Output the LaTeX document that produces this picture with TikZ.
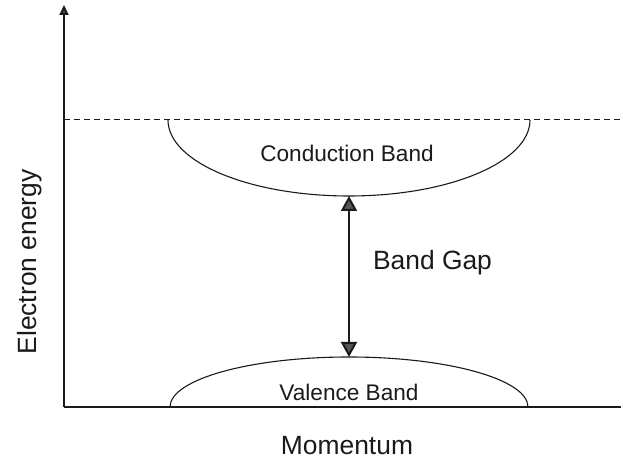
\documentclass[tikz,border=0pt]{standalone}
\usepackage{fontspec}
\setmainfont{Liberation Sans}
\usepackage{xcolor}
\usetikzlibrary{positioning,arrows.meta,calc}
\definecolor{ink}{HTML}{1A1A1A}
\definecolor{tipgray}{HTML}{555555}

\begin{document}
\begin{tikzpicture}[x=0.5pt, y=-0.5pt,
  axis/.style={line width=1pt, ink},
  band/.style={line width=0.55pt, ink},
  gaparrow/.style={{Triangle[length=7.5pt,width=8pt,fill=tipgray]}-{Triangle[length=7.5pt,width=8pt,fill=tipgray]}, line width=1pt, ink},
  lbl/.style={font=\fontsize{11.3}{13}\selectfont, text=ink},
  biglbl/.style={font=\fontsize{13.2}{15}\selectfont, text=ink}]
\useasboundingbox (0,0) rectangle (623,475);
% axes
\coordinate (origin) at (64,407);
\coordinate (ytop) at (64,5);
\coordinate (xend) at (621,407);
\draw[axis, -{Triangle[length=5pt,width=4.5pt,fill=tipgray]}] (origin) -- (ytop);
\draw[axis] (origin) -- (xend);
% vacuum level
\coordinate (dash-l) at (64,120);
\coordinate (dash-r) at (621,120);
\draw[ink, line width=0.5pt, dash pattern=on 3pt off 2pt] (dash-l) -- (dash-r);
% bands
\coordinate (cb-l) at (168,120);
\coordinate (cb-bottom) at (349,196);
\draw[band] (cb-l) arc[start angle=180, end angle=0, x radius=181, y radius=76];
\coordinate (vb-l) at (170,407);
\coordinate (vb-top) at (349,357);
\draw[band] (vb-l) arc[start angle=180, end angle=360, x radius=179, y radius=50];
\node[lbl] (cb) at (347,153) {Conduction Band};
\node[lbl] (vb) at (349,392) {Valence Band};
% gap
\draw[gaparrow] (cb-bottom) -- (vb-top);
\node[biglbl, anchor=west] (gap) at (366,263) {Band Gap};
% axis labels
\node[biglbl, rotate=90] (ylab) at (30,262) {Electron energy};
\node[biglbl] (xlab) at (347,446) {Momentum};
\end{tikzpicture}
\end{document}
